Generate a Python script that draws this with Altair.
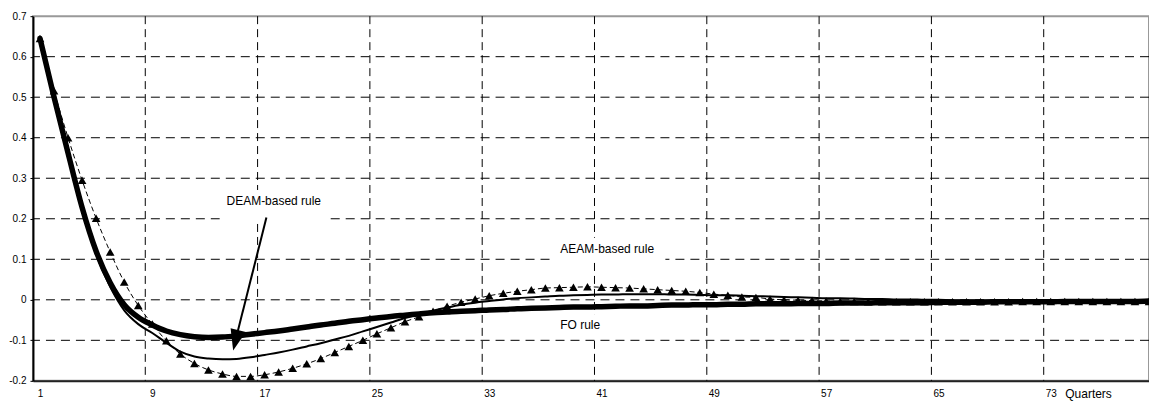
import altair as alt
import pandas as pd

# ---------------- data ----------------
quarters = list(range(1, 81))

fo_rule = [
    0.645, 0.500, 0.362, 0.228, 0.120, 0.042, -0.012, -0.043, -0.062, -0.077,
    -0.086, -0.091, -0.093, -0.092, -0.089, -0.085, -0.081, -0.077, -0.072, -0.067,
    -0.062, -0.058, -0.053, -0.049, -0.045, -0.041, -0.038, -0.035, -0.032, -0.030,
    -0.028, -0.027, -0.025, -0.024, -0.022, -0.021, -0.020, -0.019, -0.018, -0.018,
    -0.017, -0.016, -0.015, -0.015, -0.014, -0.013, -0.013, -0.012, -0.012, -0.011,
    -0.011, -0.010, -0.010, -0.010, -0.009, -0.009, -0.009, -0.008, -0.008, -0.008,
    -0.007, -0.007, -0.007, -0.007, -0.006, -0.006, -0.006, -0.006, -0.005, -0.005,
    -0.005, -0.005, -0.005, -0.004, -0.004, -0.004, -0.004, -0.004, -0.004, -0.003,
]

deam_rule = [
    0.645, 0.498, 0.358, 0.222, 0.112, 0.032, -0.026, -0.060, -0.082, -0.106,
    -0.128, -0.140, -0.145, -0.147, -0.146, -0.142, -0.136, -0.130, -0.123, -0.115,
    -0.107, -0.098, -0.089, -0.078, -0.067, -0.056, -0.045, -0.036, -0.027, -0.019,
    -0.012, -0.007, -0.003, 0.001, 0.004, 0.006, 0.008, 0.010, 0.011, 0.012,
    0.013, 0.013, 0.014, 0.014, 0.014, 0.013, 0.013, 0.012, 0.011, 0.011,
    0.010, 0.009, 0.008, 0.007, 0.006, 0.005, 0.004, 0.004, 0.003, 0.002,
    0.002, 0.001, 0.001, 0.000, 0.000, -0.001, -0.001, -0.001, -0.002, -0.002,
    -0.002, -0.002, -0.002, -0.002, -0.002, -0.002, -0.002, -0.002, -0.002, -0.002,
]

aeam_rule = [
    0.645, 0.516, 0.400, 0.295, 0.201, 0.118, 0.044, -0.014, -0.060, -0.101,
    -0.134, -0.157, -0.173, -0.183, -0.189, -0.189, -0.185, -0.178, -0.169, -0.158,
    -0.145, -0.130, -0.115, -0.100, -0.084, -0.069, -0.054, -0.042, -0.028, -0.016,
    -0.006, 0.002, 0.010, 0.016, 0.021, 0.025, 0.029, 0.030, 0.031, 0.032,
    0.031, 0.030, 0.029, 0.027, 0.025, 0.023, 0.021, 0.018, 0.014, 0.011,
    0.007, 0.006, 0.002, 0.000, -0.001, -0.002, -0.003, -0.004, -0.004, -0.005,
    -0.005, -0.005, -0.005, -0.005, -0.005, -0.005, -0.005, -0.005, -0.005, -0.005,
    -0.004, -0.004, -0.004, -0.004, -0.004, -0.004, -0.004, -0.004, -0.004, -0.004,
]

x_label_values = [1, 9, 17, 25, 33, 41, 49, 57, 65, 73]
x_grid_values = [8.5, 16.5, 24.5, 32.5, 40.5, 48.5, 56.5, 64.5, 72.5]
y_tick_values = [-0.2, -0.1, 0.0, 0.1, 0.2, 0.3, 0.4, 0.5, 0.6, 0.7]
y_grid_values = [-0.1, 0.0, 0.1, 0.2, 0.3, 0.4, 0.5, 0.6]

note_text = ["DEAM-based rule", "AEAM-based rule", "FO rule"]
note_x = [14.29, 38.06, 38.06]
note_y = [0.244, 0.126, -0.062]
# white text-box extents (data units) behind each annotation
box_x1 = [13.81, 37.51, 37.51]
box_x2 = [21.64, 45.55, 41.57]
box_y1 = [0.195, 0.094, -0.091]
box_y2 = [0.271, 0.153, -0.037]

arrow_start = (17.13, 0.203)
arrow_end = (15.0, -0.09)
arrow_tip = (14.76, -0.125)

# ---------------- tables ----------------
df = pd.DataFrame({"q": quarters, "fo": fo_rule, "deam": deam_rule, "aeam": aeam_rule})
vgrid = pd.DataFrame({"gx": x_grid_values})
hgrid = pd.DataFrame({"gy": y_grid_values})
notes = pd.DataFrame({"t": note_text, "nx": note_x, "ny": note_y})
boxes = pd.DataFrame({"bx1": box_x1, "bx2": box_x2, "by1": box_y1, "by2": box_y2})
arrow = pd.DataFrame({"x0": [arrow_start[0]], "y0": [arrow_start[1]],
                      "x1": [arrow_end[0]], "y1": [arrow_end[1]]})
tip = pd.DataFrame({"tx": [arrow_tip[0]], "ty": [arrow_tip[1]]})

FONT = "Liberation Sans, Arial, sans-serif"

xs = alt.Scale(domain=[0.5, 80], nice=False, zero=False)
ys = alt.Scale(domain=[-0.2, 0.7], nice=False, zero=False)

x_axis = alt.Axis(
    values=x_label_values, grid=False, ticks=False,
    domainColor="#222222", domainWidth=2,
    labelFont=FONT, labelFontSize=10, labelColor="black", labelPadding=8,
    labelFlush=False, labelOverlap=False, format="d",
    title="Quarters", titleX=1056, titleY=13, titleAlign="center",
    titleBaseline="middle", titleFont=FONT, titleFontSize=12,
    titleFontWeight="normal", titleColor="black",
)
y_axis = alt.Axis(
    values=y_tick_values, grid=False,
    domainColor="black", domainWidth=2,
    tickColor="black", tickSize=3, tickWidth=1,
    labelFont=FONT, labelFontSize=10, labelColor="black", labelPadding=4,
    labelFlush=False, labelOverlap=False,
    labelExpr="(datum.value < 0 ? '-' : '') + format(abs(datum.value), '.1~f')",
    title=None,
)

X = lambda f: alt.X(f, type="quantitative", scale=xs, axis=x_axis)
Y = lambda f: alt.Y(f, type="quantitative", scale=ys, axis=y_axis)

vgrid_layer = alt.Chart(vgrid).mark_rule(
    color="black", strokeWidth=1, strokeDash=[8, 5]
).encode(x=X("gx"))

hgrid_layer = alt.Chart(hgrid).mark_rule(
    color="black", strokeWidth=1, strokeDash=[9, 6]
).encode(y=Y("gy"))

box_layer = alt.Chart(boxes).mark_rect(color="white", opacity=1).encode(
    x=X("bx1"), x2="bx2", y=Y("by1"), y2="by2"
)

base = alt.Chart(df)

aeam_line = base.mark_line(
    color="black", strokeWidth=1, strokeDash=[5, 3], interpolate="monotone", clip=True
).encode(x=X("q"), y=Y("aeam"))

deam_line = base.mark_line(
    color="black", strokeWidth=2, interpolate="monotone", clip=True,
    strokeCap="round", strokeJoin="round"
).encode(x=X("q"), y=Y("deam"))

fo_line = base.mark_line(
    color="black", strokeWidth=5.5, interpolate="monotone", clip=True,
    strokeCap="round", strokeJoin="round"
).encode(x=X("q"), y=Y("fo"))

aeam_pts = base.mark_point(
    shape="triangle-up", filled=True, size=75, color="black", opacity=1, clip=True
).encode(x=X("q"), y=Y("aeam"))

note_layer = alt.Chart(notes).mark_text(
    align="left", baseline="middle", font=FONT, fontSize=12, color="black"
).encode(x=X("nx"), y=Y("ny"), text="t:N")

arrow_line = alt.Chart(arrow).mark_rule(color="black", strokeWidth=2).encode(
    x=X("x0"), y=Y("y0"), x2="x1", y2="y1"
)

arrow_head = alt.Chart(tip).mark_point(
    shape="M0,0L-0.75,-2L0.75,-2Z", filled=True, size=440, angle=14,
    color="black", opacity=1
).encode(x=X("tx"), y=Y("ty"))

chart = alt.layer(
    vgrid_layer, hgrid_layer, box_layer, aeam_line, deam_line, fo_line, aeam_pts,
    note_layer, arrow_line, arrow_head
).properties(
    width=1117, height=365,
    padding={"left": 33, "top": 16, "right": 0, "bottom": 22},
    autosize=alt.AutoSizeParams(type="none"),
    background="white",
).configure_view(stroke="#999999", strokeWidth=2)

chart.save("out.html", embed_options={"renderer": "svg", "actions": False})
